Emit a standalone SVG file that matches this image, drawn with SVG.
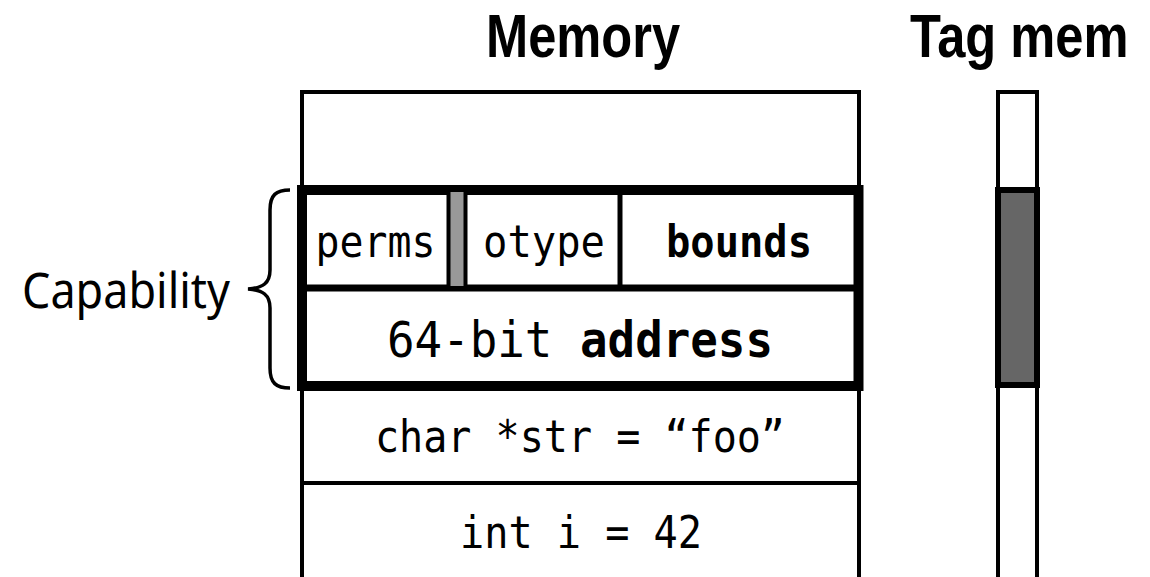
<svg xmlns="http://www.w3.org/2000/svg" width="1150" height="577" viewBox="0 0 1150 577">
<style>
.title{font-family:"Liberation Sans",Arial,sans-serif;font-weight:bold;font-size:61px;fill:#000}
.mono{font-family:"DejaVu Sans Mono","Liberation Mono",monospace;font-size:45px;fill:#000}
.b{font-weight:bold}
.thin{fill:#fff;stroke:#000;stroke-width:4}
.label{font-family:"Noto Sans","Open Sans",sans-serif;font-size:50px;fill:#000}
</style>
<rect width="1150" height="577" fill="#fff"/>
<g id="titles">
<text class="title" transform="translate(486,57) scale(0.83,1)" x="0" y="0">Memory</text>
<text class="title" transform="translate(910,57) scale(0.83,1)" x="0" y="0">Tag mem</text>
</g>
<g id="memory">
<rect class="thin" x="302" y="92" width="557" height="110"/>
<rect class="thin" x="302" y="380" width="557" height="220"/>
<line x1="302" y1="483" x2="859" y2="483" stroke="#000" stroke-width="4"/>
</g>
<g id="capability">
<rect x="302" y="190" width="556.5" height="196" fill="#fff" stroke="#000" stroke-width="10"/>
<line x1="302" y1="288" x2="858" y2="288" stroke="#000" stroke-width="7"/>
<rect x="448.5" y="190" width="17" height="98" fill="#999" stroke="#000" stroke-width="4"/>
<line x1="620" y1="190" x2="620" y2="288" stroke="#000" stroke-width="5"/>
<text class="mono" x="375.5" y="257" text-anchor="middle" textLength="120" lengthAdjust="spacingAndGlyphs">perms</text>
<text class="mono" x="544" y="257" text-anchor="middle" textLength="122" lengthAdjust="spacingAndGlyphs">otype</text>
<text class="mono b" x="739" y="257" text-anchor="middle" textLength="146" lengthAdjust="spacingAndGlyphs">bounds</text>
<text class="mono" x="580" y="357" text-anchor="middle" style="font-size:50px" textLength="386" lengthAdjust="spacingAndGlyphs">64-bit <tspan class="b">address</tspan></text>
</g>
<g id="char-row">
<text class="mono" x="580" y="452" text-anchor="middle" textLength="410" lengthAdjust="spacingAndGlyphs">char *str = “foo”</text>
</g>
<g id="int-row">
<text class="mono" x="581" y="548" text-anchor="middle" textLength="242" lengthAdjust="spacingAndGlyphs">int i = 42</text>
</g>
<g id="tagmem">
<rect class="thin" x="998" y="92" width="39" height="500"/>
<rect x="998" y="190" width="39" height="195" fill="#666" stroke="#000" stroke-width="6"/>
</g>
<g id="brace-label">
<path d="M290,190 C276,190 270,195 270,210 L270,270 C270,283 263,288 248,289 C263,290 270,295 270,308 L270,368 C270,383 276,388 290,388" fill="none" stroke="#000" stroke-width="3.5"/>
<text class="label" x="22" y="308" textLength="208" lengthAdjust="spacingAndGlyphs">Capability</text>
</g>
</svg>
